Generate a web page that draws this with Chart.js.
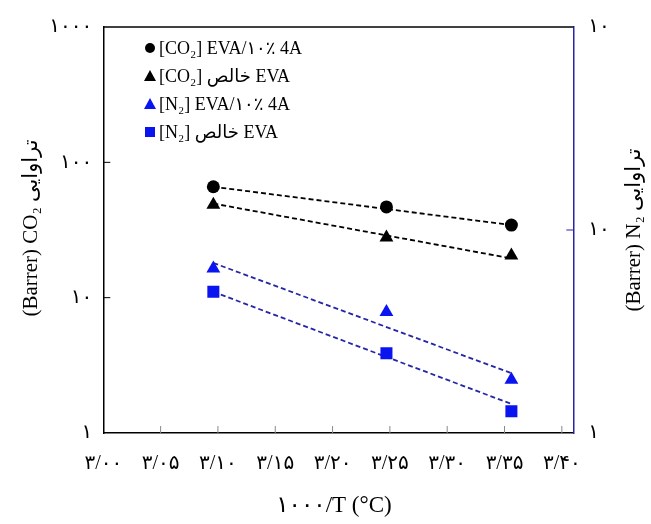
<!DOCTYPE html>
<html>
<head>
<meta charset="utf-8">
<script src="https://cdn.jsdelivr.net/npm/chart.js@4.4.1/dist/chart.umd.min.js"></script>
<style>
  html, body { margin: 0; padding: 0; background: #fff; }
  #wrap { width: 651px; height: 524px; }
</style>
</head>
<body>
<div id="wrap"><canvas id="permChart" width="651" height="524"></canvas></div>
<script>
// داده ها - 1000/T
const tempX = [3.096, 3.247, 3.356];
const co2Composite = [66, 46.8, 34.4];
const co2Neat = [48.5, 27.8, 20.5];
const n2Composite = [6.46, 3.95, 1.83];
const n2Neat = [4.96, 2.47, 1.28];

// خطوط برازش
const fitX = [3.096, 3.356];
const co2CompositeFit = [66, 34.4];
const co2NeatFit = [49.6, 19.5];
const n2CompositeFit = [6.88, 1.97];
const n2NeatFit = [4.96, 1.39];

const xTickValues = [3.00, 3.05, 3.10, 3.15, 3.20, 3.25, 3.30, 3.35, 3.40];
const xTickLabels = ['۳/۰۰', '۳/۰۵', '۳/۱۰', '۳/۱۵', '۳/۲۰', '۳/۲۵', '۳/۳۰', '۳/۳۵', '۳/۴۰'];
const leftTickValues = [1, 10, 100, 1000];
const leftTickLabels = ['۱', '۱۰', '۱۰۰', '۱۰۰۰'];
const rightTickValues = [1, 10, 100];
const rightTickLabels = ['۱', '۱۰', '۱۰'];

const seriesNames = ['[CO₂] EVA/۱۰٪ 4A', '[CO₂] خالص EVA', '[N₂] EVA/۱۰٪ 4A', '[N₂] خالص EVA'];
const xTitle = '۱۰۰۰/T (°C)';
const leftTitle = '(Barrer) CO₂ تراوایی';
const rightTitle = '(Barrer) N₂ تراوایی';

const FONT = "'Liberation Serif', 'DejaVu Sans', serif";
const BLUE = '#0a14f0';
const NAVY = '#2626a6';

const pts = (xs, ys) => xs.map((x, i) => ({ x: x, y: ys[i] }));

function fitLine(ys, axis, color) {
    return {
        data: pts(fitX, ys), yAxisID: axis, showLine: true,
        borderColor: color, borderWidth: 1.8, borderDash: [5, 3],
        pointRadius: 0, fill: false, order: 2
    };
}
function markers(ys, axis, color, style, r) {
    return {
        data: pts(tempX, ys), yAxisID: axis, showLine: false,
        backgroundColor: color, borderColor: color, borderWidth: 0,
        pointStyle: style, pointRadius: r, order: 1
    };
}

// قاب، تیک های داخلی، عنوان محورها و راهنما
const decorPlugin = {
    id: 'decor',
    afterDraw(chart) {
        const { ctx, chartArea: a, scales } = chart;
        ctx.save();
        ctx.strokeStyle = '#000';
        ctx.lineWidth = 1.5;
        ctx.beginPath();
        ctx.moveTo(a.left, a.top);
        ctx.lineTo(a.right, a.top);
        ctx.stroke();

        ctx.lineWidth = 1;
        ctx.strokeStyle = '#888';
        xTickValues.slice(1).forEach(v => {
            const px = scales.x.getPixelForValue(v);
            ctx.beginPath();
            ctx.moveTo(px, a.bottom);
            ctx.lineTo(px, a.bottom - 7);
            ctx.stroke();
        });
        ctx.strokeStyle = '#000';
        [10, 100].forEach(v => {
            const py = scales.y.getPixelForValue(v);
            ctx.beginPath();
            ctx.moveTo(a.left, py);
            ctx.lineTo(a.left + 7, py);
            ctx.stroke();
        });
        ctx.strokeStyle = NAVY;
        const py10 = scales.y2.getPixelForValue(10);
        ctx.beginPath();
        ctx.moveTo(a.right, py10);
        ctx.lineTo(a.right - 7, py10);
        ctx.stroke();

        // عنوان ها
        ctx.fillStyle = '#000';
        ctx.textAlign = 'center';
        ctx.textBaseline = 'middle';
        ctx.font = '23px ' + FONT;
        ctx.fillText(xTitle, 334, 506);
        ctx.font = '21px ' + FONT;
        ctx.save();
        ctx.translate(31, 228);
        ctx.rotate(-Math.PI / 2);
        ctx.fillText(leftTitle, 0, 0);
        ctx.restore();
        ctx.save();
        ctx.translate(634, 230);
        ctx.rotate(-Math.PI / 2);
        ctx.fillText(rightTitle, 0, 0);
        ctx.restore();

        // راهنما
        const colors = ['#000', '#000', BLUE, BLUE];
        const shapes = ['circle', 'triangle', 'triangle', 'rect'];
        ctx.font = '18px ' + FONT;
        ctx.textAlign = 'left';
        seriesNames.forEach((name, i) => {
            const y = 48 + i * 28;
            const x = 150;
            ctx.fillStyle = colors[i];
            ctx.beginPath();
            if (shapes[i] === 'circle') {
                ctx.arc(x, y, 5, 0, Math.PI * 2);
            } else if (shapes[i] === 'triangle') {
                ctx.moveTo(x, y - 6);
                ctx.lineTo(x + 6, y + 5);
                ctx.lineTo(x - 6, y + 5);
                ctx.closePath();
            } else {
                ctx.rect(x - 5, y - 5, 10, 10);
            }
            ctx.fill();
            ctx.fillStyle = '#000';
            ctx.fillText(name, x + 9, y + 1);
        });
        ctx.restore();
    }
};

new Chart(document.getElementById('permChart'), {
    type: 'scatter',
    data: {
        datasets: [
            fitLine(co2CompositeFit, 'y', '#000'),
            fitLine(co2NeatFit, 'y', '#000'),
            fitLine(n2CompositeFit, 'y2', NAVY),
            fitLine(n2NeatFit, 'y2', NAVY),
            markers(co2Composite, 'y', '#000', 'circle', 6.5),
            markers(co2Neat, 'y', '#000', 'triangle', 8),
            markers(n2Composite, 'y2', BLUE, 'triangle', 8),
            markers(n2Neat, 'y2', BLUE, 'rect', 8.5)
        ]
    },
    options: {
        responsive: false,
        animation: false,
        layout: { padding: { top: 19, left: 0, right: 0, bottom: 0 } },
        plugins: { legend: { display: false }, tooltip: { enabled: false } },
        scales: {
            x: {
                type: 'linear', min: 3.00, max: 3.41,
                afterBuildTicks: s => { s.ticks = xTickValues.map(v => ({ value: v })); },
                afterFit: s => { s.height = 91; },
                grid: { display: false, drawTicks: false },
                border: { color: '#000', width: 1.5 },
                ticks: {
                    padding: 19, color: '#000',
                    font: { family: FONT, size: 20 },
                    maxRotation: 0, autoSkip: false,
                    callback: v => xTickLabels[xTickValues.findIndex(t => Math.abs(t - v) < 1e-6)]
                }
            },
            y: {
                type: 'logarithmic', position: 'left', min: 1, max: 1000,
                afterBuildTicks: s => { s.ticks = leftTickValues.map(v => ({ value: v })); },
                afterFit: s => { s.width = 103.3; },
                grid: { display: false, drawTicks: false },
                border: { color: '#000', width: 1.5 },
                ticks: {
                    padding: 11, color: '#000',
                    font: { family: FONT, size: 20 },
                    callback: v => leftTickLabels[leftTickValues.indexOf(v)]
                }
            },
            y2: {
                type: 'logarithmic', position: 'right', min: 1, max: 100,
                afterBuildTicks: s => { s.ticks = rightTickValues.map(v => ({ value: v })); },
                afterFit: s => { s.width = 77.7; },
                grid: { display: false, drawTicks: false },
                border: { color: NAVY, width: 1.5 },
                ticks: {
                    padding: 15, color: '#000',
                    font: { family: FONT, size: 20 },
                    callback: v => rightTickLabels[rightTickValues.indexOf(v)]
                }
            }
        }
    },
    plugins: [decorPlugin]
});
</script>
</body>
</html>
